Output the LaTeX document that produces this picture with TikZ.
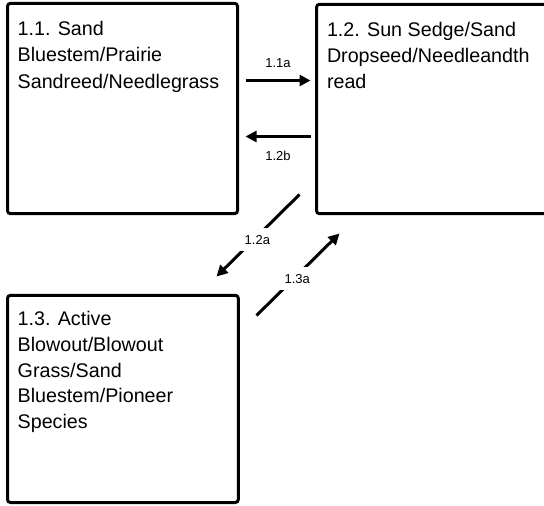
\documentclass[tikz,border=0pt]{standalone}
\usepackage{fontspec}
\setmainfont{Liberation Sans}
\usetikzlibrary{arrows.meta,calc}
\begin{document}
\begin{tikzpicture}[x=1pt,y=-1pt,
  box/.style={draw=black, line width=3pt, rounded corners=3pt, fill=white, inner sep=0pt},
  txt/.style={anchor=north west, inner sep=0pt, align=left, font=\fontsize{19.7}{26.2}\selectfont, text=black},
  arr/.style={line width=3pt, -{Triangle[length=11pt,width=11pt]}},
  lab/.style={font=\fontsize{13}{15}\selectfont, fill=white, inner sep=7pt, text=black}]
\clip (0,0) rectangle (544,506);
\fill[white] (0,0) rectangle (544,506);
% boxes
\node[box, minimum width=230pt, minimum height=210.4pt] (b11) at (122.5,108.5) {};
\node[box, minimum width=235.5pt, minimum height=209.4pt] (b12) at (434.25,109) {};
\node[box, minimum width=230.8pt, minimum height=207.2pt] (b13) at (122.9,398.9) {};
% texts
\node[txt] (t11) at ($(b11.north west)+(11.5,19.5)$) {1.1. Sand\\Bluestem/Prairie\\Sandreed/Needlegrass};
\node[txt] (t12) at ($(b12.north west)+(11.8,19.2)$) {1.2. Sun Sedge/Sand\\Dropseed/Needleandth\\read};
\node[txt, font=\fontsize{19.7}{25.8}\selectfont] (t13) at ($(b13.north west)+(11.5,17.2)$) {1.3. Active\\Blowout/Blowout\\Grass/Sand\\Bluestem/Pioneer\\Species};
% connector end points
\coordinate (a1s) at ($(b11.north east)+(6.5,78.7)$);
\coordinate (a1e) at ($(b12.north west)+(-4.5,77.7)$);
\coordinate (a2s) at ($(b12.north west)+(-4.5,133.7)$);
\coordinate (a2e) at ($(b11.north east)+(6.5,134.7)$);
\coordinate (a3s) at ($(b12.south west)+(-15.5,-20.7)$);
\coordinate (a3e) at ($(b13.north east)+(-23.3,-17.3)$);
\coordinate (a4s) at ($(b13.north east)+(16.7,21.7)$);
\coordinate (a4e) at ($(b12.south west)+(24.5,18.3)$);
% connectors
\draw[arr] (a1s) -- node[lab, inner sep=0pt, yshift=17pt] (l11a) {1.1a} (a1e);
\draw[arr] (a2s) -- node[lab, inner sep=0pt, yshift=-19pt] (l12b) {1.2b} (a2e);
\draw[arr] (a3s) -- node[lab, pos=0.55, xshift=3.5pt] (l12a) {1.2a} (a3e);
\draw[arr] (a4s) -- node[lab, pos=0.447, xshift=3.6pt] (l13a) {1.3a} (a4e);
\end{tikzpicture}
\end{document}
